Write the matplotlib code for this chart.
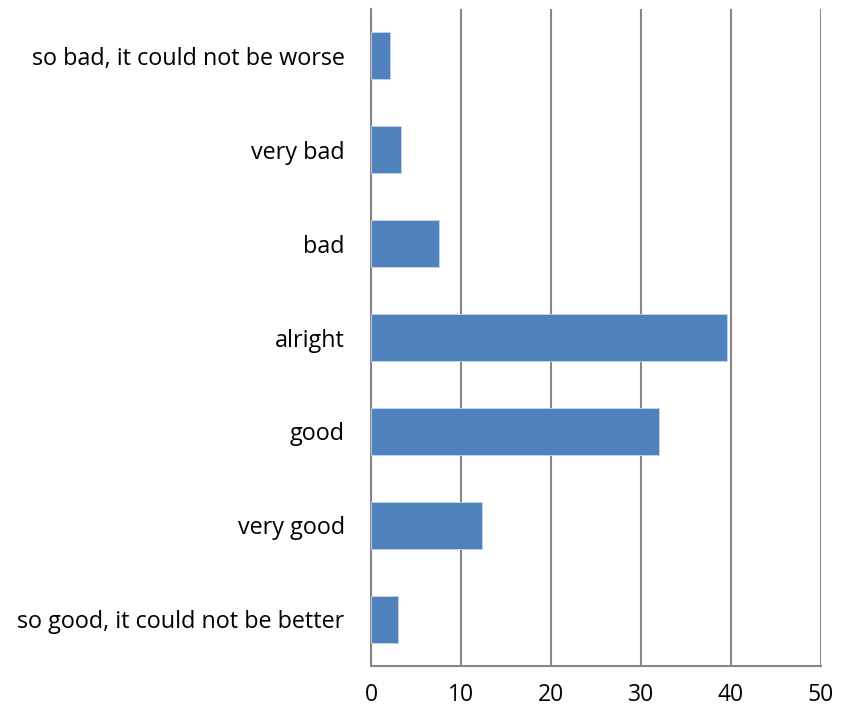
import matplotlib
matplotlib.use("Agg")
import matplotlib.pyplot as plt

categories = [
    "so bad, it could not be worse",
    "very bad",
    "bad",
    "alright",
    "good",
    "very good",
    "so good, it could not be better",
]
values = [2.1, 3.3, 7.5, 39.5, 32.0, 12.3, 3.0]
xticks = [0, 10, 20, 30, 40, 50]

BAR = "#4f81bd"
GRID = "#868686"

fig = plt.figure(figsize=(8.5, 7.11), dpi=100)
ax = fig.add_axes([0.4365, 0.0633, 0.5294, 0.924])

pos = list(range(len(categories)))
ax.barh(pos, values, height=0.5, color=BAR, edgecolor="#c6d5ea", linewidth=0.6, zorder=3)
ax.set_ylim(len(categories) - 0.5, -0.5)
ax.set_xlim(0, 50)
ax.set_xticks(xticks)
ax.set_yticks(pos)
ax.set_yticklabels(categories)
ax.grid(axis="x", color=GRID, lw=1.5, zorder=0)
ax.set_axisbelow(True)

for side in ("top", "right"):
    ax.spines[side].set_visible(False)
for side in ("left", "bottom"):
    ax.spines[side].set_color(GRID)
    ax.spines[side].set_linewidth(1.5)

ax.tick_params(axis="y", length=0, pad=19, labelsize=16.8)
ax.tick_params(axis="x", length=0, pad=12, labelsize=16.5)
for lbl in ax.get_xticklabels() + ax.get_yticklabels():
    lbl.set_family("Open Sans")

fig.savefig("out.png", dpi=100, facecolor="white")
